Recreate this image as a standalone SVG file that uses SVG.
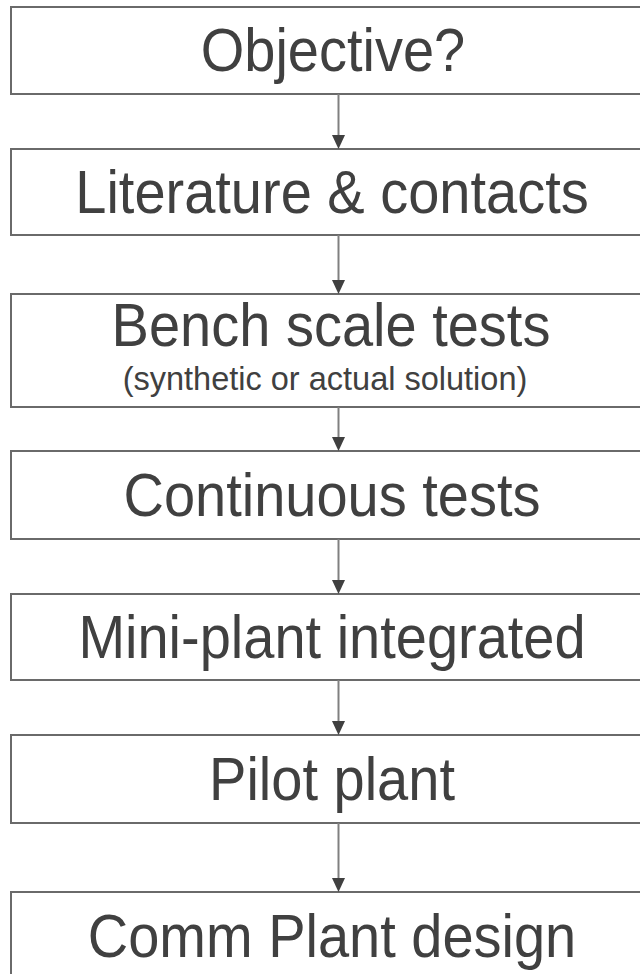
<svg xmlns="http://www.w3.org/2000/svg" width="640" height="974" viewBox="0 0 640 974">
<style>
.box{fill:#ffffff;stroke:#6a6a6a;stroke-width:2}
.t{font-family:"Liberation Sans",Arial,sans-serif;font-size:56px;fill:#404040;text-anchor:middle}
.s{font-family:"Liberation Sans",Arial,sans-serif;font-size:32.5px;fill:#404040;text-anchor:middle}
.ln{stroke:#808080;stroke-width:2;fill:none}
.hd{fill:#404040}
</style>
<rect width="640" height="974" fill="#ffffff"/>
<g id="n1"><rect class="box" x="11" y="7" width="660" height="87"/><text class="t" transform="translate(333,71) scale(1,1.08)">Objective?</text></g>
<g id="n2"><rect class="box" x="11" y="149" width="660" height="86"/><text class="t" transform="translate(332,213) scale(1,1.08)">Literature &amp; contacts</text></g>
<g id="n3"><rect class="box" x="11" y="294" width="660" height="113"/><text class="t" transform="translate(331,346) scale(1,1.08)">Bench scale tests</text><text class="s" x="325" y="390">(synthetic or actual solution)</text></g>
<g id="n4"><rect class="box" x="11" y="451" width="660" height="88"/><text class="t" transform="translate(332,516) scale(1,1.08)">Continuous tests</text></g>
<g id="n5"><rect class="box" x="11" y="594" width="660" height="86"/><text class="t" transform="translate(332,658) scale(1,1.08)">Mini-plant integrated</text></g>
<g id="n6"><rect class="box" x="11" y="735" width="660" height="88"/><text class="t" transform="translate(332,800) scale(1,1.08)">Pilot plant</text></g>
<g id="n7"><rect class="box" x="11" y="892" width="660" height="100"/><text class="t" transform="translate(332,957) scale(1,1.08)">Comm Plant design</text></g>
<g id="connectors">
<path class="ln" d="M338.5 94V136"/><polygon class="hd" points="332,135 345,135 338.5,149"/>
<path class="ln" d="M338.5 235V281"/><polygon class="hd" points="332,280 345,280 338.5,294"/>
<path class="ln" d="M338.5 407V438"/><polygon class="hd" points="332,437 345,437 338.5,451"/>
<path class="ln" d="M338.5 539V581"/><polygon class="hd" points="332,580 345,580 338.5,594"/>
<path class="ln" d="M338.5 680V722"/><polygon class="hd" points="332,721 345,721 338.5,735"/>
<path class="ln" d="M338.5 823V879"/><polygon class="hd" points="332,878 345,878 338.5,892"/>
</g>
</svg>
